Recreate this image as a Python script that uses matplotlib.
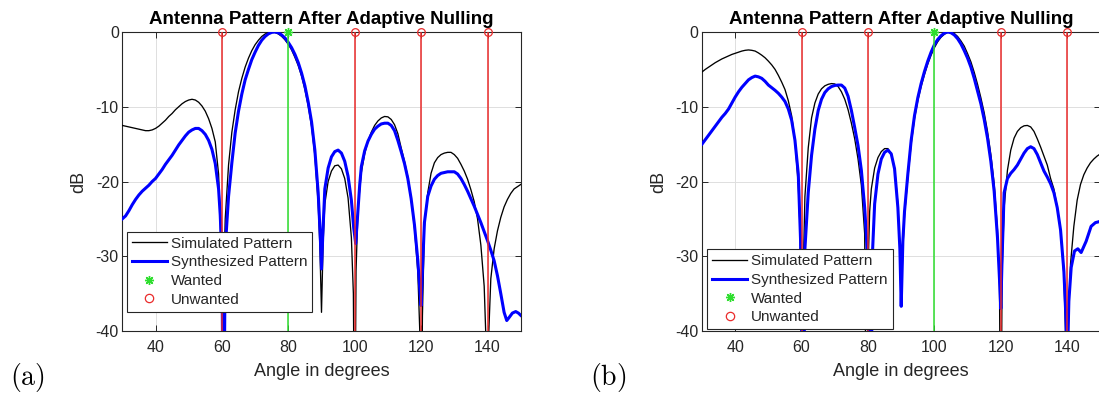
import matplotlib
matplotlib.use("Agg")
import matplotlib.pyplot as plt
from matplotlib.lines import Line2D

plt.rcParams['font.family'] = ['Liberation Sans', 'DejaVu Sans']
plt.rcParams['axes.unicode_minus'] = False
plt.rcParams['mathtext.fontset'] = 'cm'

# ---------------- panel (a): wanted 80 deg, nulls at 60/100/120/140 ----------------
ang_sim_a = [30, 31, 32, 33, 34, 35, 36, 37, 38, 39, 40, 41, 42, 43, 44, 45, 46, 47, 48, 49,
             50, 51, 52, 53, 54, 55, 56, 57, 58, 59, 59.5, 60, 60.3, 60.6, 61, 62, 63, 64, 65,
             66, 67, 68, 69, 70, 71, 72, 73, 74, 75, 76, 77, 78, 79, 80, 81, 82, 83, 84, 85,
             86, 87, 88, 89, 89.5, 90, 90.5, 91, 92, 93, 94, 95, 96, 97, 98, 99, 99.6, 100,
             100.4, 101, 102, 103, 104, 105, 106, 107, 108, 109, 110, 111, 112, 113, 114, 115,
             116, 117, 118, 119, 119.6, 120, 120.4, 121, 122, 123, 124, 125, 126, 127, 128,
             129, 130, 131, 132, 133, 134, 135, 136, 137, 138, 139, 139.6, 140, 140.4, 141,
             142, 143, 144, 145, 146, 147, 148, 149, 150]
db_sim_a = [-12.5, -12.6, -12.7, -12.8, -12.9, -13.0, -13.1, -13.2, -13.2, -13.1, -12.9, -12.6,
            -12.2, -11.8, -11.3, -10.9, -10.4, -10.0, -9.6, -9.3, -9.1, -9.0, -9.1, -9.4, -9.9,
            -10.6, -11.6, -12.9, -14.7, -19.0, -25.0, -36.0, -60.0, -32.0, -25.0, -17.8, -13.4,
            -10.4, -8.0, -6.2, -4.7, -3.5, -2.5, -1.7, -1.1, -0.6, -0.27, -0.07, 0.0, -0.06,
            -0.26, -0.58, -1.05, -1.65, -2.4, -3.4, -4.5, -5.9, -7.7, -9.9, -12.6, -16.5, -23.0,
            -28.5, -37.5, -28.0, -23.0, -20.0, -18.6, -17.9, -17.8, -18.3, -19.6, -22.2, -27.5,
            -35.0, -60.0, -32.0, -23.5, -18.8, -16.3, -14.6, -13.4, -12.5, -11.9, -11.5, -11.3,
            -11.35, -11.7, -12.4, -13.6, -15.5, -17.3, -19.4, -22.3, -26.2, -32.0, -40.0, -60.0,
            -38.0, -26.0, -21.5, -18.9, -17.5, -16.8, -16.4, -16.2, -16.1, -16.1, -16.4, -16.9,
            -17.7, -18.6, -19.7, -21.1, -22.7, -25.0, -28.5, -34.0, -42.0, -60.0, -40.0, -33.0,
            -29.0, -26.6, -24.8, -23.4, -22.4, -21.6, -21.0, -20.7, -20.4]

ang_syn_a = [30, 31, 32, 33, 34, 35, 36, 37, 38, 39, 40, 41, 42, 43, 44, 45, 46, 47, 48, 49,
             50, 51, 52, 53, 54, 55, 56, 57, 58, 59, 59.5, 60, 60.5, 61, 62, 63, 64, 65, 66,
             67, 68, 69, 70, 71, 72, 73, 74, 75, 76, 77, 78, 79, 80, 81, 82, 83, 84, 85, 86,
             87, 88, 89, 89.6, 90, 90.4, 91, 92, 93, 94, 95, 96, 97, 98, 99, 99.7, 100.3,
             100.8, 101.5, 102, 103, 104, 105, 106, 107, 108, 109, 110, 111, 112, 113, 114,
             115, 116, 117, 118, 119, 119.7, 120, 120.4, 121, 122, 123, 124, 125, 126, 127,
             128, 129, 130, 131, 132, 133, 134, 135, 136, 137, 138, 139, 140, 141, 142, 143,
             144, 145, 145.8, 146.5, 147.5, 148.5, 149.3, 150]
db_syn_a = [-25.0, -24.6, -23.9, -23.1, -22.4, -21.8, -21.3, -20.9, -20.5, -20.0, -19.6, -19.0,
            -18.4, -17.7, -17.1, -16.5, -15.8, -15.1, -14.5, -13.9, -13.4, -13.1, -12.9, -12.9,
            -13.2, -13.7, -14.5, -15.7, -17.6, -21.0, -24.5, -30.0, -60.0, -29.0, -22.0, -17.5,
            -13.5, -10.6, -8.3, -6.4, -5.0, -3.7, -2.7, -1.8, -1.1, -0.6, -0.25, -0.05, 0.0,
            -0.1, -0.4, -0.8, -1.4, -2.1, -3.0, -4.1, -5.5, -7.2, -9.4, -12.0, -15.8, -21.5,
            -27.0, -31.7, -27.0, -21.0, -18.2, -16.7, -16.0, -15.8, -16.2, -17.3, -19.3, -22.5,
            -26.2, -28.3, -25.0, -20.5, -18.0, -15.9, -14.6, -13.7, -13.0, -12.6, -12.3, -12.2,
            -12.2, -12.5, -13.2, -14.5, -16.0, -17.6, -19.6, -22.3, -25.8, -30.5, -35.0, -36.6,
            -32.0, -25.5, -22.0, -20.6, -19.7, -19.2, -18.9, -18.8, -18.7, -18.7, -18.7, -19.0,
            -19.6, -20.4, -21.3, -22.3, -23.3, -24.4, -25.5, -26.7, -27.9, -29.2, -30.6, -32.6,
            -35.0, -37.5, -38.6, -38.2, -37.6, -37.4, -37.6, -37.9]

wanted_a = [80]
unwanted_a = [60, 100, 120, 140]

# ---------------- panel (b): wanted 100 deg, nulls at 60/80/120/140 ----------------
ang_sim_b = [30, 31, 32, 33, 34, 35, 36, 37, 38, 39, 40, 41, 42, 43, 44, 45, 46, 47, 48, 49,
             50, 51, 52, 53, 54, 55, 56, 57, 58, 59, 59.5, 60, 60.2, 60.6, 61, 62, 63, 64, 65,
             66, 67, 68, 69, 70, 71, 72, 73, 74, 75, 76, 77, 78, 79, 79.6, 80, 80.5, 81, 82,
             83, 84, 85, 86, 87, 88, 89, 89.5, 90, 90.5, 91, 92, 93, 94, 95, 96, 97, 98, 99,
             100, 101, 102, 103, 104, 105, 106, 107, 108, 109, 110, 111, 112, 113, 114, 115,
             116, 117, 118, 119, 119.6, 120, 120.4, 121, 122, 123, 124, 125, 126, 127, 128,
             129, 130, 131, 132, 133, 134, 135, 136, 137, 138, 139, 139.6, 140, 140.4, 141,
             142, 143, 144, 145, 146, 147, 148, 149, 150]
db_sim_b = [-5.35, -5.0, -4.7, -4.4, -4.1, -3.85, -3.6, -3.4, -3.2, -3.0, -2.85, -2.7, -2.55,
            -2.45, -2.4, -2.45, -2.55, -2.8, -3.1, -3.45, -3.9, -4.4, -5.0, -5.8, -6.7, -7.7,
            -9.2, -11.2, -14.5, -20.5, -26.0, -40.0, -60.0, -30.0, -22.0, -15.5, -11.5, -9.5,
            -8.3, -7.6, -7.2, -7.0, -6.9, -6.95, -7.3, -8.0, -9.0, -10.4, -12.2, -14.3, -17.0,
            -20.5, -27.0, -60.0, -32.0, -24.0, -21.0, -18.2, -16.8, -16.0, -15.6, -15.6, -16.3,
            -18.2, -23.0, -28.0, -36.1, -29.0, -24.5, -19.5, -15.0, -11.6, -9.2, -7.3, -5.7,
            -4.3, -3.1, -2.1, -1.3, -0.7, -0.3, -0.05, 0.0, -0.2, -0.6, -1.2, -1.9, -2.9, -4.0,
            -5.4, -7.0, -8.8, -10.8, -13.3, -16.4, -20.3, -26.5, -34.0, -60.0, -32.0, -23.5,
            -18.5, -15.8, -14.2, -13.3, -12.8, -12.55, -12.5, -12.7, -13.3, -14.3, -15.4, -16.6,
            -17.8, -19.6, -21.0, -23.5, -26.5, -32.5, -42.0, -60.0, -38.0, -31.0, -26.0, -22.5,
            -20.4, -19.1, -18.2, -17.5, -17.0, -16.6, -16.3]

ang_syn_b = [30, 31, 32, 33, 34, 35, 36, 37, 38, 39, 40, 41, 42, 43, 44, 45, 46, 47, 48, 49,
             50, 51, 52, 53, 54, 55, 56, 57, 58, 59, 59.7, 60.5, 61, 62, 63, 64, 65, 66, 67,
             68, 69, 70, 71, 72, 73, 74, 75, 76, 77, 78, 79, 80, 80.8, 81.3, 82, 83, 84, 85,
             86, 87, 88, 89, 89.6, 90, 90.5, 91, 92, 93, 94, 95, 96, 97, 98, 99, 100, 101, 102,
             103, 104, 105, 106, 107, 108, 109, 110, 111, 112, 113, 114, 115, 116, 117, 118,
             119, 119.6, 120, 120.4, 121, 122, 123, 124, 125, 126, 127, 128, 129, 130, 131,
             132, 133, 134, 135, 136, 137, 138, 139, 139.6, 140, 140.5, 141.2, 142.2, 143.2,
             144.2, 145.7, 147.2, 148.5, 149.4, 150]
db_syn_b = [-15.0, -14.4, -13.8, -13.2, -12.6, -12.0, -11.4, -10.9, -10.3, -9.5, -8.7, -8.0,
            -7.4, -6.9, -6.4, -6.1, -5.9, -6.0, -6.2, -6.6, -7.1, -7.45, -7.8, -8.2, -8.7, -9.3,
            -10.3, -11.8, -14.5, -19.0, -28.0, -60.0, -29.0, -21.5, -16.5, -13.0, -10.5, -9.0,
            -8.1, -7.6, -7.3, -7.15, -7.1, -7.1, -7.5, -8.6, -10.5, -12.8, -15.2, -18.5, -23.5,
            -31.0, -60.0, -30.0, -23.0, -19.0, -17.0, -16.1, -15.8, -16.3, -18.3, -23.5, -29.0,
            -36.7, -28.0, -24.0, -19.0, -14.5, -11.2, -8.8, -6.9, -5.3, -3.9, -2.7, -1.7, -1.0,
            -0.5, -0.15, 0.0, -0.1, -0.4, -0.9, -1.6, -2.5, -3.5, -4.7, -6.2, -7.9, -9.6, -11.7,
            -14.2, -17.3, -21.3, -27.5, -33.0, -37.0, -30.0, -21.5, -19.6, -18.9, -18.4, -17.8,
            -17.0, -16.2, -15.6, -15.35, -15.6, -16.4, -17.5, -18.6, -19.4, -20.3, -21.5, -23.5,
            -26.5, -32.0, -38.0, -45.0, -36.0, -31.5, -29.3, -29.0, -29.5, -28.0, -26.0, -25.5,
            -25.4, -25.3]

wanted_b = [100]
unwanted_b = [60, 80, 120, 140]

legend_labels = ['Simulated Pattern', 'Synthesized Pattern', 'Wanted', 'Unwanted']
x_ticks = [40, 60, 80, 100, 120, 140]
y_ticks = [-40, -30, -20, -10, 0]

INK = '#262626'
RED = '#ea2b2b'
GREEN = '#2ede2e'
BLUE = '#0000ff'
ASTERISK = (8, 2, 0)

W, H = 1099, 397
fig = plt.figure(figsize=(W / 100, H / 100), dpi=100)


def px_axes(x0, x1, ytop, ybot):
    return fig.add_axes([x0 / W, 1 - ybot / H, (x1 - x0) / W, (ybot - ytop) / H])


def draw_panel(ax, ang_sim, db_sim, ang_syn, db_syn, wanted, unwanted, leg_x, leg_top):
    ax.plot(ang_sim, db_sim, color='black', lw=0.95, zorder=3)
    ax.plot(ang_syn, db_syn, color=BLUE, lw=2.2, zorder=4)
    for a in unwanted:
        ax.plot([a, a], [-40, 0], color=RED, lw=1.1, zorder=5)
    for a in wanted:
        ax.plot([a, a], [-40, 0], color=GREEN, lw=1.1, zorder=5)
    ax.plot(unwanted, [0] * len(unwanted), ls='none', marker='o', mfc='none', mec=RED,
            ms=5.5, mew=0.9, clip_on=False, zorder=6)
    ax.plot(wanted, [0] * len(wanted), ls='none', marker=ASTERISK, color=GREEN,
            ms=6.5, mew=1.0, clip_on=False, zorder=6)

    ax.set_xlim(30, 150)
    ax.set_ylim(-40, 0)
    ax.set_xticks(x_ticks)
    ax.set_yticks(y_ticks)
    ax.grid(True, color='#dedede', lw=0.7)
    ax.set_axisbelow(True)
    for s in ax.spines.values():
        s.set_color(INK)
        s.set_linewidth(0.8)
    ax.tick_params(axis='both', direction='in', top=True, right=True, length=4, width=0.7,
                   color=INK, labelcolor=INK, labelsize=11.5)
    ax.tick_params(axis='x', pad=6.5)
    ax.tick_params(axis='y', pad=2.5)

    ax.set_title('Antenna Pattern After Adaptive Nulling', fontsize=13.5, fontweight='bold',
                 color='black', pad=6)
    ax.set_xlabel('Angle in degrees', fontsize=13, color=INK)
    ax.set_ylabel('dB', fontsize=13, color=INK)
    ax.xaxis.set_label_coords(0.5, -0.107)
    ax.yaxis.set_label_coords(-0.087, 0.5)

    handles = [Line2D([], [], color='black', lw=0.95),
               Line2D([], [], color=BLUE, lw=2.2),
               Line2D([], [], ls='none', marker=ASTERISK, color=GREEN, ms=6.5, mew=1.0),
               Line2D([], [], ls='none', marker='o', mfc='none', mec=RED, ms=6, mew=0.9)]
    leg = ax.legend(handles, legend_labels, loc='upper left', bbox_to_anchor=(leg_x, leg_top),
                    borderaxespad=0, fontsize=11, frameon=True, fancybox=False,
                    edgecolor=INK, framealpha=1, handlelength=2.3, handletextpad=0.25,
                    labelspacing=0.3, borderpad=0.33)
    leg.get_frame().set_linewidth(0.8)
    leg.set_zorder(10)
    for t in leg.get_texts():
        t.set_color(INK)


ax_a = px_axes(122.3, 520.7, 32, 331)
ax_b = px_axes(702.0, 1100.4, 32, 331)

draw_panel(ax_a, ang_sim_a, db_sim_a, ang_syn_a, db_syn_a, wanted_a, unwanted_a, 0.011, 0.332)
draw_panel(ax_b, ang_sim_b, db_sim_b, ang_syn_b, db_syn_b, wanted_b, unwanted_b, 0.013, 0.273)

fig.text(27 / W, 1 - 378 / H, r'$\mathrm{(a)}$', fontsize=20, ha='center', va='center')
fig.text(608 / W, 1 - 378 / H, r'$\mathrm{(b)}$', fontsize=20, ha='center', va='center')

fig.savefig('out.png', dpi=100)
